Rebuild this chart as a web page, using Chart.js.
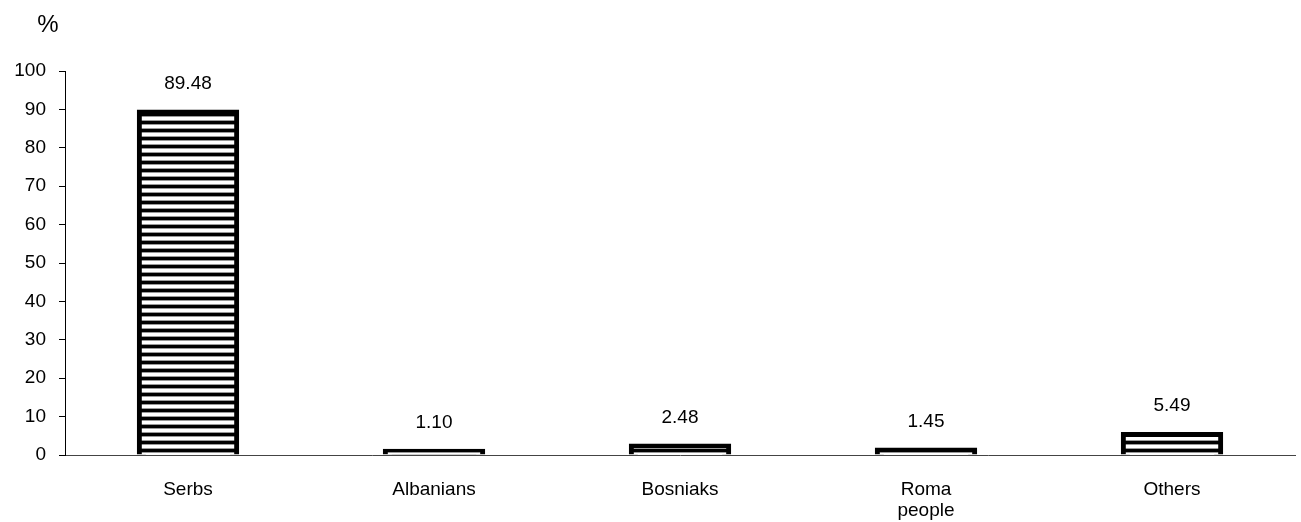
<!DOCTYPE html>
<html>
<head>
<meta charset="utf-8">
<script src="https://cdn.jsdelivr.net/npm/chart.js@4"></script>
<style>
  html, body { margin: 0; padding: 0; background: #fff; }
  #wrap { width: 1301px; height: 522px; }
</style>
</head>
<body>
<div id="wrap"><canvas id="shareChart"></canvas></div>
<script>
const categories = ['Serbs', 'Albanians', 'Bosniaks', ['Roma', 'people'], 'Others'];
const shares = [89.48, 1.10, 2.48, 1.45, 5.49];
const shareLabels = ['89.48', '1.10', '2.48', '1.45', '5.49'];
const yTicks = [0, 10, 20, 30, 40, 50, 60, 70, 80, 90, 100];

Chart.defaults.font.family = "'Liberation Sans', Arial, sans-serif";
Chart.defaults.font.size = 19;
Chart.defaults.color = '#000';

// horizontal stripes like the original print
function stripes() {
	const c = document.createElement('canvas');
	c.width = 8; c.height = 8;
	const g = c.getContext('2d');
	g.fillStyle = '#fff';
	g.fillRect(0, 0, 8, 8);
	g.fillStyle = '#999';
	g.fillRect(0, 0, 8, 5);
	g.fillStyle = '#000';
	g.fillRect(0, 1, 8, 3);
	return g.createPattern(c, 'repeat');
}

const extras = {
	id: 'extras',
	afterDatasetsDraw(chart) {
		const ctx = chart.ctx;
		const meta = chart.getDatasetMeta(0);
		ctx.save();
		ctx.fillStyle = '#000';
		ctx.font = "19px 'Liberation Sans', Arial, sans-serif";
		ctx.textAlign = 'center';
		ctx.textBaseline = 'middle';
		meta.data.forEach(function(bar, i) {
			ctx.fillText(shareLabels[i], bar.x, bar.y - 28);
		});
		ctx.font = "24px 'Liberation Sans', Arial, sans-serif";
		ctx.fillText('%', 48, 25);
		ctx.restore();
	}
};

const ctx = document.getElementById('shareChart').getContext('2d');
new Chart(ctx, {
	type: 'bar',
	data: {
		labels: categories,
		datasets: [{
			data: shares,
			backgroundColor: stripes(),
			borderColor: '#000',
			borderWidth: 5,
			inflateAmount: 2,
			barPercentage: 0.40,
			categoryPercentage: 1
		}]
	},
	options: {
		responsive: true,
		maintainAspectRatio: false,
		animation: false,
		layout: { padding: { top: 71, right: 6, left: 0, bottom: 0 } },
		plugins: { legend: { display: false }, tooltip: { enabled: false } },
		scales: {
			x: {
				grid: { display: false },
				border: { color: '#444', width: 1 },
				ticks: { padding: 16, maxRotation: 0, font: { lineHeight: 1.1 } },
				afterFit: function(axis) { axis.height = 67; }
			},
			y: {
				min: 0,
				max: 100,
				afterBuildTicks: function(axis) { axis.ticks = yTicks.map(v => ({ value: v })); },
				afterFit: function(axis) { axis.width = 65; },
				grid: { drawOnChartArea: false, tickLength: 6, color: '#000' },
				border: { color: '#000', width: 1 },
				ticks: { padding: 13 }
			}
		}
	},
	plugins: [extras]
});
</script>
</body>
</html>
